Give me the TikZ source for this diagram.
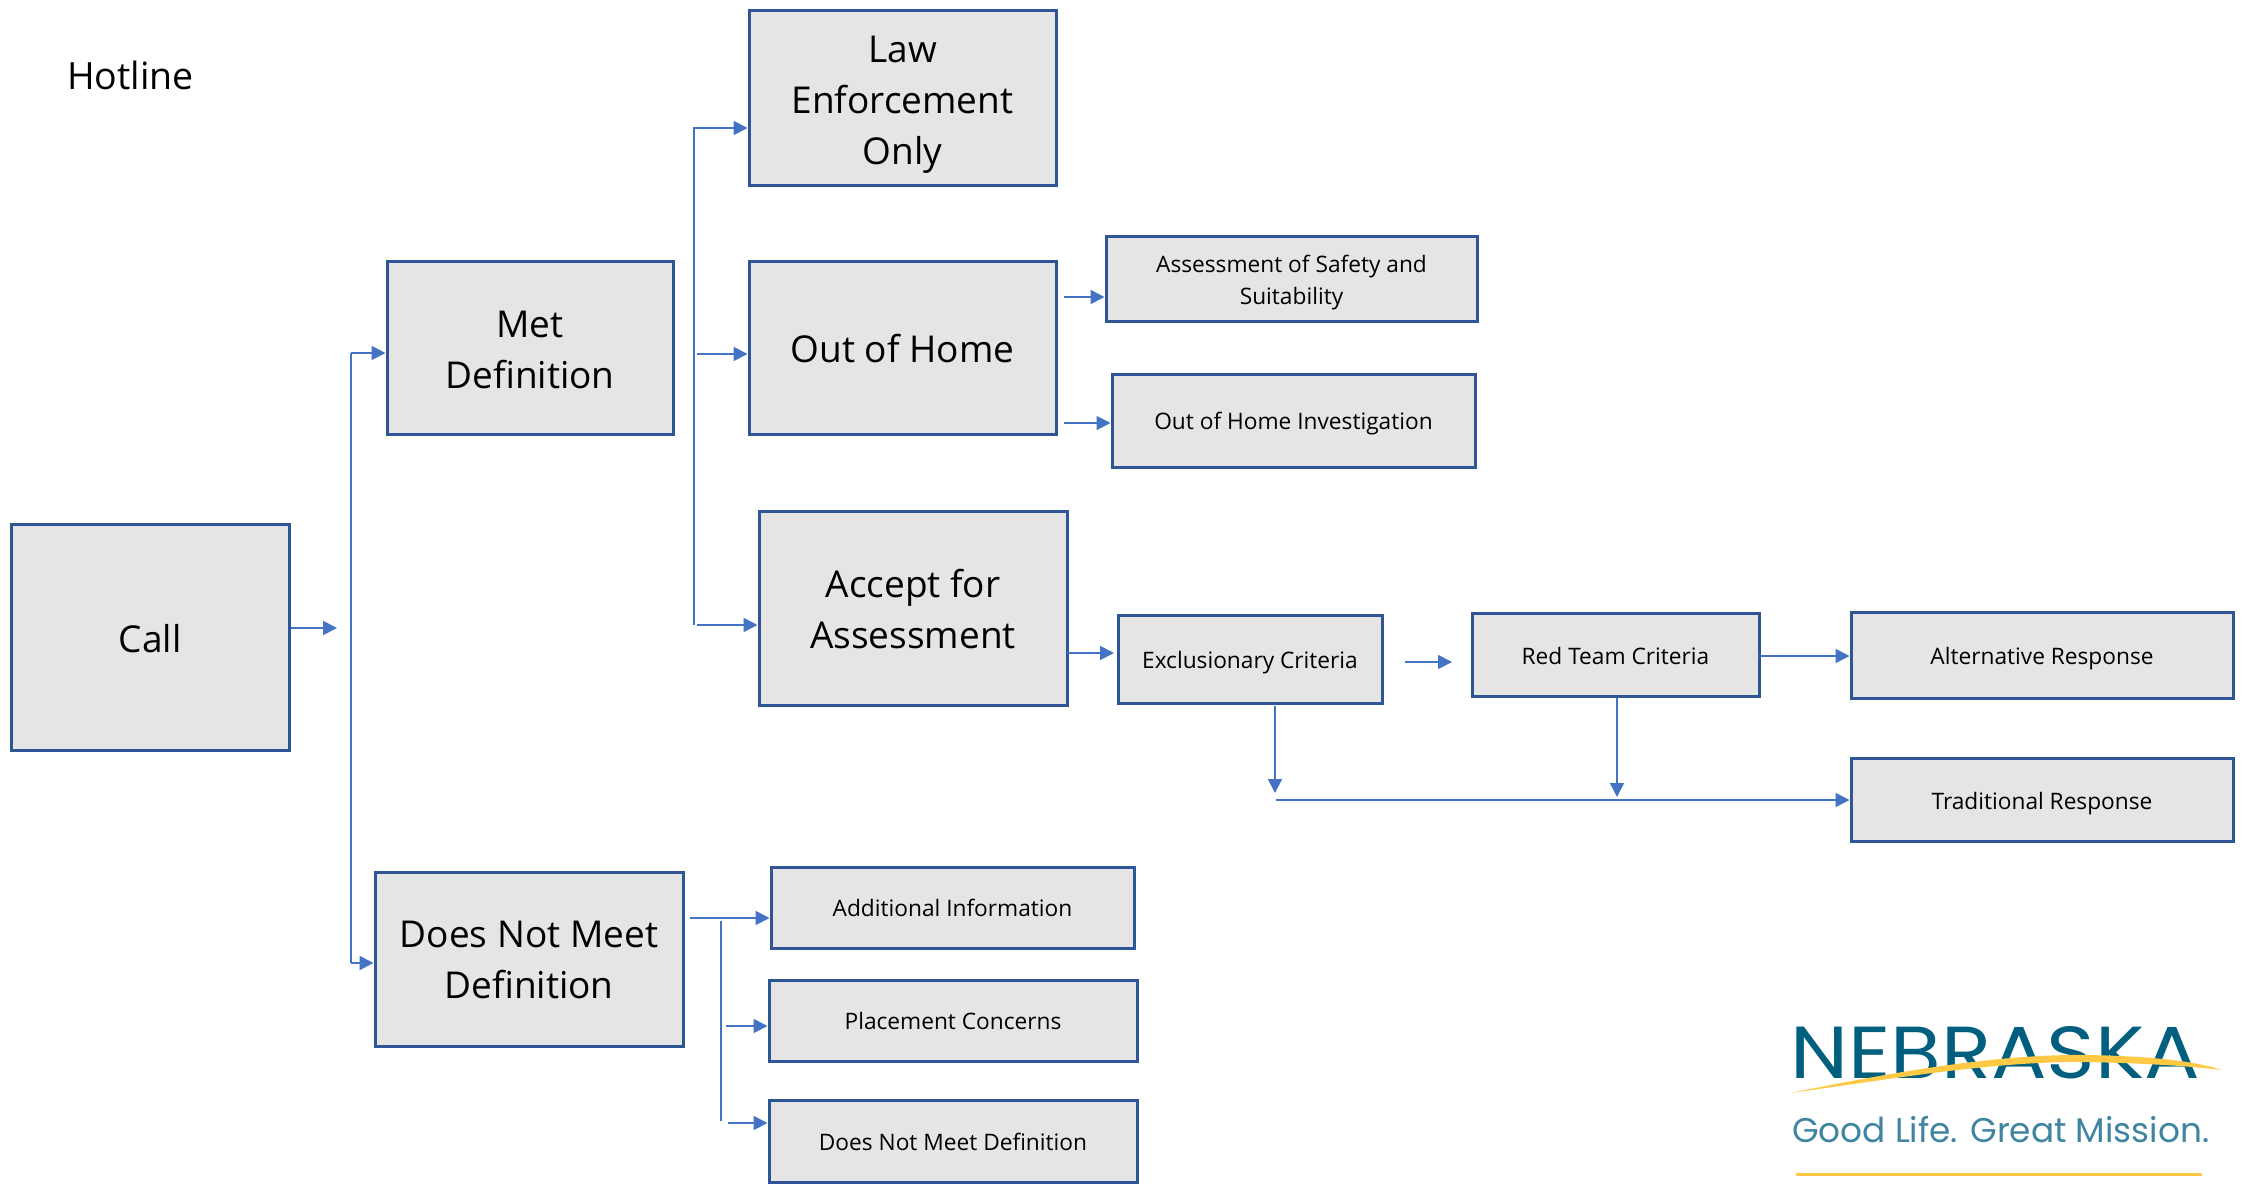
\documentclass[tikz,border=0pt]{standalone}
\usepackage{fontspec}
\setmainfont{Open Sans}
\newfontfamily\logofont{Poppins}
\usetikzlibrary{arrows.meta,calc}
\definecolor{boxedge}{HTML}{2F5597}
\definecolor{boxfill}{HTML}{E5E5E5}
\definecolor{linkblue}{HTML}{4472C4}
\definecolor{logoblue}{HTML}{005F7F}
\definecolor{logotag}{HTML}{3F84A0}
\definecolor{logogold}{HTML}{FFC845}
\tikzset{
  flowbox/.style={draw=boxedge,fill=boxfill,line width=3pt,inner sep=0pt,text=black},
  bigtext/.style={flowbox,font=\fontsize{37}{51}\selectfont},
  smalltext/.style={flowbox,font=\fontsize{22.7}{32}\selectfont},
  link/.style={draw=linkblue,line width=1.8pt},
  arrowlink/.style={link,-{Triangle[length=14pt,width=14pt]}}
}
% \fbx{style}{name}{x1}{y1}{x2}{y2}{text drop}{text}
\newcommand{\fbx}[8]{\node[#1,minimum width={(#5-#3)*1pt},minimum height={(#6-#4)*1pt}] (#2) at ({(#3+#5)/2},{(#4+#6)/2}) {\raisebox{-#7pt}[\height][\depth]{\begin{tabular}{@{}c@{}}#8\end{tabular}}};}
\begin{document}
\begin{tikzpicture}[x=1pt,y=-1pt]
\useasboundingbox (0,0) rectangle (2246,1188);
\fill[white] (0,0) rectangle (2246,1188);
\node[font=\fontsize{37.5}{50}\selectfont,anchor=base west,inner sep=0pt] (title) at (67,90) {Hotline};

\fbx{bigtext}{call}{11.5}{524}{289}{750}{5.5}{Call}
\fbx{bigtext}{met}{387}{261}{673}{434}{5}{Met\\Definition}
\fbx{bigtext}{dnm}{375}{872}{683}{1046}{3.5}{Does Not Meet\\Definition}
\fbx{bigtext}{law}{749}{11}{1056}{185}{5}{Law\\Enforcement\\Only}
\fbx{bigtext}{ooh}{749}{261}{1056}{434}{4.5}{Out of Home}
\fbx{bigtext}{acc}{759}{511}{1067}{705}{5}{Accept for\\Assessment}
\fbx{smalltext}{saf}{1106}{236}{1477}{321}{4}{Assessment of Safety and\\Suitability}
\fbx{smalltext}{ohi}{1112}{374}{1475}{467}{3}{Out of Home Investigation}
\fbx{smalltext}{exc}{1118}{615}{1382}{703}{3}{Exclusionary Criteria}
\fbx{smalltext}{red}{1472}{613}{1759}{696}{4}{Red Team Criteria}
\fbx{smalltext}{alt}{1851}{612}{2233}{698}{3}{Alternative Response}
\fbx{smalltext}{tra}{1851}{758}{2233}{841}{4}{Traditional Response}
\fbx{smalltext}{add}{771}{867}{1134}{948}{3}{Additional Information}
\fbx{smalltext}{pla}{769}{980}{1137}{1061}{3}{Placement Concerns}
\fbx{smalltext}{dnd}{769}{1100}{1137}{1182}{3}{Does Not Meet Definition}

% free ends and junctions
\coordinate (callEnd) at (337,628);
\coordinate (callY) at (289,628);
\coordinate (jTop) at (351,353);
\coordinate (jBot) at (351,963);
\coordinate (mTop) at (694,128);
\coordinate (mTopS) at (693,128);
\coordinate (mMid) at (697,354);
\coordinate (mBot) at (697,625);
\coordinate (mTrunkB) at (694,625);
\coordinate (sStart) at (1064,297);
\coordinate (iStart) at (1064,423);
\coordinate (aStart) at (1067,653);
\coordinate (aEnd) at (1114,653);
\coordinate (eStart) at (1405,662);
\coordinate (eEnd) at (1452,662);
\coordinate (eDownA) at (1275,706);
\coordinate (eDownB) at (1275,793);
\coordinate (rDown) at (1617,797);
\coordinate (rDownA) at (1617,698);
\coordinate (rY) at (1759,656);
\coordinate (hStart) at (1276,800);
\coordinate (dStart) at (690,918);
\coordinate (dJoin) at (721,921);
\coordinate (dEnd) at (721,1121);
\coordinate (dMid) at (726,1026);
\coordinate (dBot) at (728,1123);

\draw[arrowlink] (call.east |- callY) -- (callEnd);
\draw[link] (jTop) -- (jBot);
\draw[arrowlink] (jTop) -- (met.west |- jTop);
\draw[arrowlink] (jBot) -- (dnm.west |- jBot);

\draw[link] (mTop) -- (mTrunkB);
\draw[arrowlink] (mTopS) -- (law.west |- mTopS);
\draw[arrowlink] (mMid) -- (ooh.west |- mMid);
\draw[arrowlink] (mBot) -- (acc.west |- mBot);

\draw[arrowlink] (sStart) -- (saf.west |- sStart);
\draw[arrowlink] (iStart) -- (ohi.west |- iStart);
\draw[arrowlink] (aStart) -- (aEnd);
\draw[arrowlink] (eStart) -- (eEnd);
\draw[arrowlink] (rY) -- (alt.west |- rY);
\draw[arrowlink] (eDownA) -- (eDownB);
\draw[arrowlink] (rDownA) -- (rDown);
\draw[arrowlink] (hStart) -- (tra.west |- hStart);

\draw[arrowlink] (dStart) -- (add.west |- dStart);
\draw[link] (dJoin) -- (dEnd);
\draw[arrowlink] (dMid) -- (pla.west |- dMid);
\draw[arrowlink] (dBot) -- (dnd.west |- dBot);

% logo
\node[anchor=base west,inner sep=0pt,text=logoblue] (logoA) at (1790,1078) {\resizebox{410pt}{52pt}{\logofont NEBRASKA}};
\fill[logogold] (1790,1093) .. controls (1880,1075) and (1990,1054) .. (2085,1055) .. controls (2150,1056) and (2195,1061) .. (2222,1070) .. controls (2190,1066) and (2140,1063) .. (2085,1062) .. controls (1990,1061) and (1880,1081) .. (1790,1093) -- cycle;
\node[anchor=base west,inner sep=0pt,text=logotag] (logoB) at (1792,1142) {\resizebox{417pt}{!}{\logofont Good Life. Great Mission.}};
\fill[logogold] (1796,1172.5) rectangle (2202,1175.5);
\end{tikzpicture}
\end{document}
